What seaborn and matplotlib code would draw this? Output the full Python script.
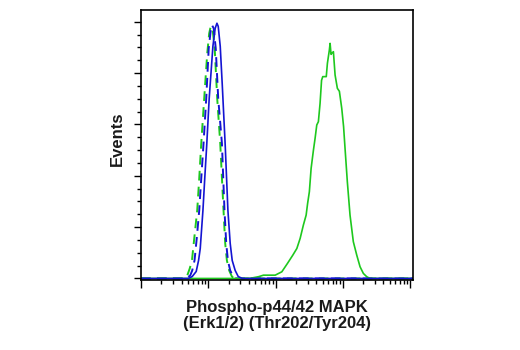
import numpy as np
import pandas as pd
import matplotlib
matplotlib.use("Agg")
import matplotlib.pyplot as plt
import seaborn as sns
from matplotlib.ticker import LogLocator, NullFormatter, FixedLocator

# Histogram traces: log10 fluorescence intensity and event counts
green_dash_log = [0.0, 0.642, 0.687, 0.724, 0.757, 0.791, 0.835, 0.865, 0.895, 0.939, 0.984,
                  1.013, 1.036, 1.065, 1.095, 1.132, 1.177, 1.226, 1.251, 1.276, 1.310,
                  1.350, 1.384, 4.04]
green_dash_cnt = [0, 0, 2.9, 9.7, 17.5, 39, 66.3, 97.5, 131.6, 175.4, 219.3,
                  238.8, 245.6, 241.7, 224.2, 175.4, 131.6, 66.3, 34.1, 17.5, 7.8,
                  1.9, 0, 0]

blue_dash_log = [0.0, 0.672, 0.731, 0.761, 0.795, 0.828, 0.865, 0.895, 0.929, 0.969, 1.006,
                 1.036, 1.053, 1.080, 1.110, 1.147, 1.202, 1.240, 1.266, 1.291, 1.325,
                 1.369, 1.414, 4.04]
blue_dash_cnt = [0, 0, 2.9, 7.8, 17.5, 39, 66.3, 97.5, 131.6, 175.4, 224.2,
                 241.7, 246.9, 243.7, 224.2, 175.4, 131.6, 66.3, 34.1, 17.5, 7.8,
                 1.9, 0, 0]

blue_solid_log = [0.0, 0.702, 0.761, 0.820, 0.855, 0.880, 0.920, 0.947, 0.976, 1.013, 1.068,
                  1.102, 1.128, 1.147, 1.177, 1.206, 1.251, 1.291, 1.325, 1.355, 1.399,
                  1.444, 1.503, 4.04]
blue_solid_cnt = [0, 0, 1.9, 6.8, 17.5, 29.2, 66.3, 97.5, 129.6, 175.4, 226.1,
                  243.7, 248.6, 245.6, 226.1, 190.1, 129.6, 66.3, 34.1, 17.5, 7.8,
                  1.9, 0, 0]

green_solid_log = [0.0, 1.60, 1.666, 1.745, 1.819, 1.993, 2.092, 2.175, 2.255, 2.315, 2.364,
                   2.412, 2.453, 2.475, 2.501, 2.527, 2.561, 2.586, 2.611, 2.635, 2.660,
                   2.682, 2.700, 2.752, 2.769, 2.798, 2.809, 2.823, 2.834, 2.858, 2.883,
                   2.917, 2.947, 2.982, 3.009, 3.031, 3.065, 3.105, 3.154, 3.205, 3.254,
                   3.303, 3.353, 3.402, 4.04]
green_solid_cnt = [0, 0, 0.7, 1.7, 3.2, 3.2, 6.5, 14.6, 22.7, 29.2, 39.0,
                   52.0, 61.7, 73.1, 84.5, 107.2, 124.8, 136.5, 149.5, 152.7, 170.6,
                   193.0, 196.6, 196.6, 209.6, 222.5, 229.0, 218.3, 219.3, 220.9, 198.2,
                   185.2, 182.3, 165.7, 148.1, 126.7, 94.2, 61.7, 35.8, 22.7, 11.4,
                   4.9, 1.7, 0, 0]

x_label = "Phospho-p44/42 MAPK\n(Erk1/2) (Thr202/Tyr204)"
y_label = "Events"

GREEN = "#1ec81e"
BLUE = "#1414d2"

traces = [
    ("control_green", green_dash_log, green_dash_cnt, GREEN, (5, 3.2), 1.4),
    ("control_blue", blue_dash_log, blue_dash_cnt, BLUE, (5, 3.2), 1.4),
    ("treated_green", green_solid_log, green_solid_cnt, GREEN, None, 1.2),
    ("treated_blue", blue_solid_log, blue_solid_cnt, BLUE, None, 1.2),
]

frames = []
for name, lg, cnt, *_ in traces:
    frames.append(pd.DataFrame({"intensity": 10 ** np.asarray(lg, dtype=float),
                                "count": cnt, "sample": name}))
df = pd.concat(frames, ignore_index=True)

sns.set_theme(style="ticks")
plt.rcParams["font.family"] = ["Liberation Sans", "DejaVu Sans"]

fig = plt.figure(figsize=(5.2, 3.5), dpi=100)
ax = fig.add_axes([141 / 520, 70 / 350, 271.7 / 520, 270 / 350])
ax.set_xscale("log")

for name, lg, cnt, color, dash, lw in traces:
    sub = df[df["sample"] == name]
    line = sns.lineplot(data=sub, x="intensity", y="count", ax=ax, color=color,
                        linewidth=lw, estimator=None, sort=False, legend=False)
    if dash is not None:
        ax.lines[-1].set_dashes(dash)

ax.set_xlim(1, 10 ** 4.036)
ax.set_ylim(-1.5, 261.5)

ax.xaxis.set_major_locator(LogLocator(base=10, numticks=10))
ax.xaxis.set_minor_locator(LogLocator(base=10, subs=np.arange(2, 10), numticks=20))
ax.xaxis.set_major_formatter(NullFormatter())
ax.xaxis.set_minor_formatter(NullFormatter())
ax.yaxis.set_major_locator(FixedLocator([0, 50, 100, 150, 200, 250]))
ax.yaxis.set_minor_locator(FixedLocator([v for v in np.arange(0, 251, 12.5) if v % 50]))
ax.set_yticklabels([])

ax.tick_params(which="major", direction="out", length=5.4, width=1.0, color="black")
ax.tick_params(which="minor", direction="out", length=2.6, width=1.0, color="black")
for sp in ax.spines.values():
    sp.set_visible(True)
    sp.set_linewidth(1.2)
    sp.set_color("black")

ax.set_xlabel(x_label, fontsize=12, fontweight="bold", linespacing=1.05, color="#1a1a1a")
ax.set_ylabel(y_label, fontsize=12, fontweight="bold", color="#1a1a1a")
ax.xaxis.set_label_coords(0.5, -0.075)
ax.yaxis.set_label_coords(-0.058, 0.522)

fig.savefig("out.png", dpi=100)
